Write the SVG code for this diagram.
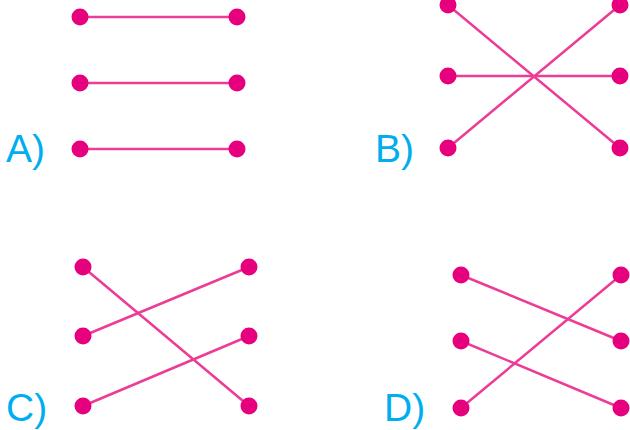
<svg xmlns="http://www.w3.org/2000/svg" width="630" height="430" viewBox="0 0 630 430">
<style>
.bg{fill:#fdfdfd}
.ln{stroke:#ec3c96;stroke-width:2.5;stroke-linecap:round;fill:none}
.dot{fill:#e6007e}
.lbl{font-family:"Liberation Sans",Arial,sans-serif;font-size:39px;fill:#00aeef}
</style>
<rect width="630" height="430" fill="#ffffff"/>
<g id="connectors">
<line class="ln" x1="80" y1="17" x2="237" y2="17"/>
<line class="ln" x1="80" y1="83" x2="237" y2="83"/>
<line class="ln" x1="80" y1="149" x2="237" y2="149"/>
<line class="ln" x1="448" y1="5" x2="620" y2="148"/>
<line class="ln" x1="448" y1="148" x2="620" y2="5"/>
<line class="ln" x1="448" y1="76" x2="620" y2="76"/>
<line class="ln" x1="83" y1="267" x2="249" y2="406"/>
<line class="ln" x1="83" y1="336" x2="249" y2="267"/>
<line class="ln" x1="83" y1="406" x2="249" y2="336"/>
<line class="ln" x1="461" y1="275" x2="621" y2="341"/>
<line class="ln" x1="461" y1="341" x2="621" y2="408"/>
<line class="ln" x1="461" y1="408" x2="621" y2="275"/>
</g>
<g id="A">
<text class="lbl" x="6" y="162">A)</text>
<circle class="dot" cx="80" cy="17" r="8.5"/><circle class="dot" cx="237" cy="17" r="8.5"/>
<circle class="dot" cx="80" cy="83" r="8.5"/><circle class="dot" cx="237" cy="83" r="8.5"/>
<circle class="dot" cx="80" cy="149" r="8.5"/><circle class="dot" cx="237" cy="149" r="8.5"/>
</g>
<g id="B">
<text class="lbl" x="375" y="162">B)</text>
<circle class="dot" cx="448" cy="5" r="8.5"/><circle class="dot" cx="620" cy="5" r="8.5"/>
<circle class="dot" cx="448" cy="76" r="8.5"/><circle class="dot" cx="620" cy="76" r="8.5"/>
<circle class="dot" cx="448" cy="148" r="8.5"/><circle class="dot" cx="620" cy="148" r="8.5"/>
</g>
<g id="C">
<text class="lbl" x="6" y="421">C)</text>
<circle class="dot" cx="83" cy="267" r="8.5"/><circle class="dot" cx="249" cy="267" r="8.5"/>
<circle class="dot" cx="83" cy="336" r="8.5"/><circle class="dot" cx="249" cy="336" r="8.5"/>
<circle class="dot" cx="83" cy="406" r="8.5"/><circle class="dot" cx="249" cy="406" r="8.5"/>
</g>
<g id="D">
<text class="lbl" x="384" y="421">D)</text>
<circle class="dot" cx="461" cy="275" r="8.5"/><circle class="dot" cx="621" cy="275" r="8.5"/>
<circle class="dot" cx="461" cy="341" r="8.5"/><circle class="dot" cx="621" cy="341" r="8.5"/>
<circle class="dot" cx="461" cy="408" r="8.5"/><circle class="dot" cx="621" cy="408" r="8.5"/>
</g>
</svg>
